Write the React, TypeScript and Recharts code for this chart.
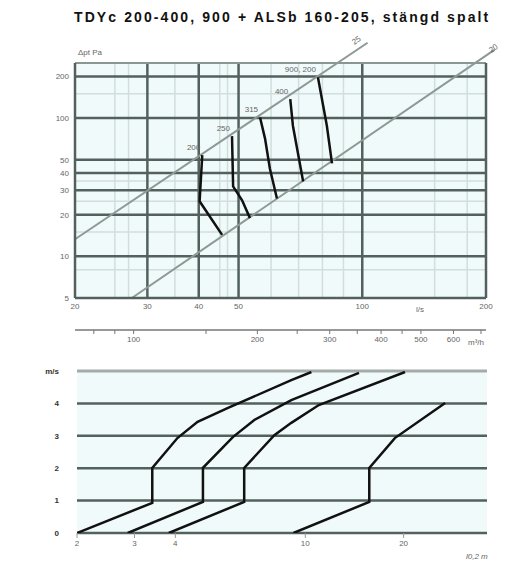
import React from "react";
import { LineChart, Line, XAxis, YAxis, ReferenceLine, ReferenceArea } from "recharts";

// ---- top diagram: pressure drop (Pa) vs airflow (l/s), log-log ----
const flowTicks = [20, 30, 40, 50, 100, 200];
const flowM3hTicks = [80, 90, 100, 150, 200, 250, 300, 350, 400, 450, 500, 600, 700];
const flowM3hLabels = [100, 200, 300, 400, 500, 600];
const dpTicks = [5, 10, 20, 30, 40, 50, 100, 200];
const flowMajor = [30, 40, 50, 100];
const flowMinor = [25, 27, 35, 45, 47, 60, 70, 80, 90, 150, 180];
const dpMajor = [10, 20, 30, 40, 50, 100, 200];
const dpMinor = [8, 15, 25, 35, 150];

const upperLimit = [
  { q: 20, dp: 13.3 },
  { q: 103, dp: 350 },
];
const lowerLimit = [
  { q: 27.5, dp: 5 },
  { q: 210, dp: 312 },
];

const size200 = [
  { q: 40.8, dp: 54 },
  { q: 40.2, dp: 25 },
  { q: 45.6, dp: 14.3 },
];
const size250 = [
  { q: 48.2, dp: 74 },
  { q: 48.5, dp: 32 },
  { q: 51, dp: 25.4 },
  { q: 53.3, dp: 18.9 },
];
const size315 = [
  { q: 56.4, dp: 101 },
  { q: 58, dp: 71 },
  { q: 59.6, dp: 43 },
  { q: 62, dp: 26.2 },
];
const size400 = [
  { q: 66.8, dp: 137 },
  { q: 67.8, dp: 88 },
  { q: 71.8, dp: 34.8 },
];
const size900 = [
  { q: 78, dp: 197 },
  { q: 82, dp: 88 },
  { q: 84.4, dp: 47 },
];
const sizeNames = ["200", "250", "315", "400", "900, 200"];
const sizeCurves = [size200, size250, size315, size400, size900];

// ---- bottom diagram: throw ----
const throwTicks = [2, 3, 4, 10, 20];
const levelTicks = [0, 1, 2, 3, 4, 5];
const levelLabels = ["0", "1", "2", "3", "4", "m/s"];
const throwA = [
  { l: 2, v: 0 },
  { l: 3.4, v: 0.93 },
  { l: 3.4, v: 2.01 },
  { l: 4.06, v: 2.93 },
  { l: 4.68, v: 3.43 },
  { l: 5.8, v: 3.86 },
  { l: 9.06, v: 4.72 },
  { l: 10.44, v: 4.97 },
];
const throwB = [
  { l: 2.86, v: 0 },
  { l: 4.86, v: 0.96 },
  { l: 4.86, v: 2.01 },
  { l: 6.0, v: 2.96 },
  { l: 6.98, v: 3.49 },
  { l: 9.06, v: 4.1 },
  { l: 14.6, v: 4.94 },
];
const throwC = [
  { l: 3.82, v: 0 },
  { l: 6.5, v: 0.96 },
  { l: 6.5, v: 2.01 },
  { l: 8.04, v: 3.02 },
  { l: 9.06, v: 3.4 },
  { l: 11, v: 3.95 },
  { l: 20.2, v: 4.97 },
];
const throwD = [
  { l: 9.2, v: 0 },
  { l: 15.7, v: 0.96 },
  { l: 15.7, v: 2.01 },
  { l: 18.8, v: 2.93 },
  { l: 26.8, v: 4.01 },
];
const throwCurves = [throwA, throwB, throwC, throwD];

const gridDark = "#52615d";
const gridLight = "#d0dedd";
const plotBg = "#f1fafa";
const tickStyle = { fontSize: 8, fill: "#666" };

const small: React.CSSProperties = {
  position: "absolute",
  fontSize: 8,
  color: "#666",
  whiteSpace: "nowrap",
};

function sizeLabel(name: string) {
  return (p: any) =>
    p.index === 0 ? (
      <text x={p.x - 2} y={p.y - 5} fontSize={8} fill="#666" textAnchor="end">
        {name}
      </text>
    ) : (
      <g />
    );
}

// invisible carrier so the m³/h axis gets a scale
const m3hCarrier = flowM3hTicks.map((m) => ({ m, dp: 5 }));

export default function App() {
  return (
    <div
      style={{
        position: "absolute",
        left: 0,
        top: 0,
        width: 527,
        height: 568,
        background: "#fff",
        fontFamily: "'Liberation Sans', Arial, sans-serif",
      }}
    >
      <div
        style={{
          position: "absolute",
          left: 74,
          top: 9,
          fontSize: 14,
          letterSpacing: 2.1,
          fontWeight: "bold",
          color: "#111",
          whiteSpace: "nowrap",
        }}
      >
        TDYc 200-400, 900 + ALSb 160-205, stängd spalt
      </div>

      <div style={{ position: "absolute", left: 0, top: 0 }}>
        <LineChart width={527} height={360} margin={{ top: 63, right: 41, left: 45, bottom: 5 }}>
          <XAxis
            dataKey="q"
            type="number"
            scale="log"
            domain={[20, 200]}
            ticks={flowTicks}
            interval={0}
            allowDataOverflow
            height={32}
            tickSize={3}
            tickLine={false}
            axisLine={{ stroke: gridDark, strokeWidth: 2.5 }}
            tick={tickStyle}
          />
          <XAxis
            xAxisId="m3"
            dataKey="m"
            type="number"
            scale="log"
            domain={[72, 720]}
            ticks={flowM3hTicks}
            interval={0}
            allowDataOverflow
            height={25}
            tickSize={4}
            tickFormatter={(v) => (flowM3hLabels.includes(Number(v)) ? String(v) : "")}
            axisLine={{ stroke: "#777", strokeWidth: 1.5 }}
            tickLine={{ stroke: "#777" }}
            tick={tickStyle}
          />
          <YAxis
            dataKey="dp"
            type="number"
            scale="log"
            domain={[5, 250]}
            ticks={dpTicks}
            interval={0}
            allowDataOverflow
            width={30}
            tickSize={4}
            tickLine={false}
            axisLine={{ stroke: gridDark, strokeWidth: 2.5 }}
            tick={tickStyle}
          />
          <ReferenceArea x1={20} x2={200} y1={5} y2={250} fill={plotBg} fillOpacity={1} stroke="none" />
          {flowMinor.map((q) => (
            <ReferenceLine key={"fm" + q} x={q} stroke={gridLight} strokeWidth={1.5} />
          ))}
          {dpMinor.map((d) => (
            <ReferenceLine key={"dm" + d} y={d} stroke={gridLight} strokeWidth={1.5} />
          ))}
          {flowMajor.map((q) => (
            <ReferenceLine key={"fM" + q} x={q} stroke={gridDark} strokeWidth={2.5} />
          ))}
          {dpMajor.map((d) => (
            <ReferenceLine key={"dM" + d} y={d} stroke={gridDark} strokeWidth={2.5} />
          ))}
          <ReferenceLine y={250} stroke="#8a9692" strokeWidth={2} />
          <ReferenceLine x={200} stroke={gridDark} strokeWidth={2.5} />
          <ReferenceLine
            segment={[
              { x: upperLimit[0].q, y: upperLimit[0].dp },
              { x: upperLimit[1].q, y: upperLimit[1].dp },
            ]}
            stroke="#8c9994"
            strokeWidth={2}
            ifOverflow="visible"
          />
          <ReferenceLine
            segment={[
              { x: lowerLimit[0].q, y: lowerLimit[0].dp },
              { x: lowerLimit[1].q, y: lowerLimit[1].dp },
            ]}
            stroke="#8c9994"
            strokeWidth={2}
            ifOverflow="visible"
          />
          <Line
            xAxisId="m3"
            data={m3hCarrier}
            dataKey="dp"
            stroke="none"
            dot={false}
            activeDot={false}
            legendType="none"
            isAnimationActive={false}
          />
          {sizeCurves.map((pts, i) => (
            <Line
              key={sizeNames[i]}
              data={pts}
              dataKey="dp"
              type="linear"
              stroke="#111"
              strokeWidth={2.5}
              dot={false}
              label={sizeLabel(sizeNames[i])}
              isAnimationActive={false}
            />
          ))}
        </LineChart>
      </div>

      <div style={{ ...small, left: 78, top: 48 }}>Δpt Pa</div>
      <div style={{ ...small, left: 416, top: 305 }}>l/s</div>
      <div style={{ ...small, left: 468, top: 338 }}>m³/h</div>
      <div style={{ ...small, left: 352, top: 36, transform: "rotate(-34deg)" }}>25</div>
      <div style={{ ...small, left: 489, top: 44, transform: "rotate(-34deg)" }}>20</div>

      <div style={{ position: "absolute", left: 0, top: 360 }}>
        <LineChart width={527} height={208} margin={{ top: 11, right: 40, left: 45, bottom: 10 }}>
          <XAxis
            dataKey="l"
            type="number"
            scale="log"
            domain={[2, 36]}
            ticks={throwTicks}
            interval={0}
            allowDataOverflow
            height={25}
            tickSize={5}
            axisLine={false}
            tickLine={{ stroke: "#999" }}
            tick={tickStyle}
          />
          <YAxis
            dataKey="v"
            type="number"
            domain={[0, 5]}
            ticks={levelTicks}
            interval={0}
            allowDataOverflow
            width={32}
            tickSize={16}
            tickLine={false}
            axisLine={false}
            tickFormatter={(v) => levelLabels[levelTicks.indexOf(v)]}
            tick={{ fontSize: 8, fill: "#333", fontWeight: "bold" }}
          />
          <ReferenceArea x1={2} x2={36} y1={0} y2={5} fill={plotBg} fillOpacity={1} stroke="none" />
          {levelTicks.map((v) => (
            <ReferenceLine
              key={"lv" + v}
              y={v}
              stroke={v === 5 ? "#a3acaa" : gridDark}
              strokeWidth={v === 5 ? 3 : 2.5}
            />
          ))}
          {throwCurves.map((pts, i) => (
            <Line
              key={"t" + i}
              data={pts}
              dataKey="v"
              type="linear"
              stroke="#111"
              strokeWidth={2.5}
              dot={false}
              isAnimationActive={false}
            />
          ))}
        </LineChart>
      </div>
      <div style={{ ...small, left: 466, top: 552, fontStyle: "italic" }}>l0,2 m</div>
    </div>
  );
}
